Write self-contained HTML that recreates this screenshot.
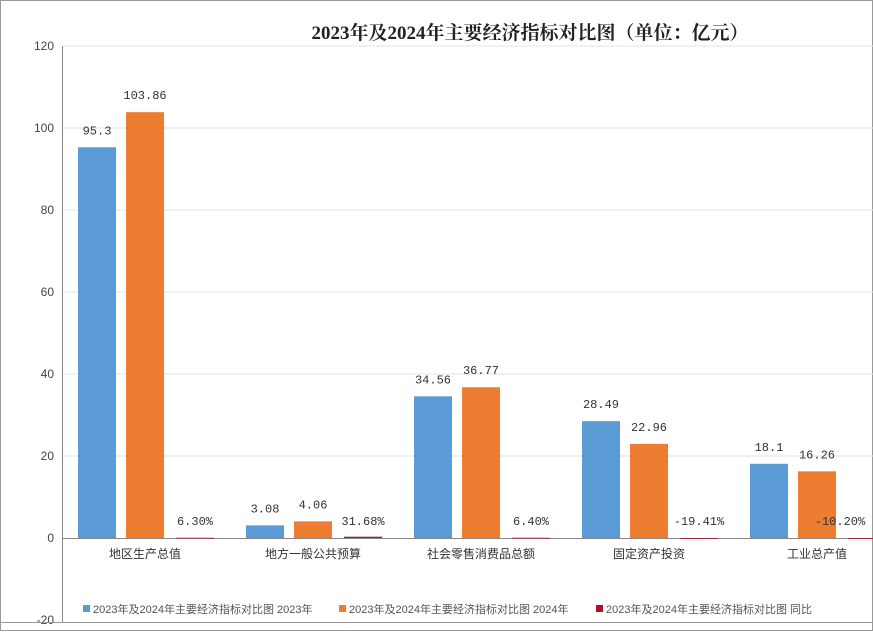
<!DOCTYPE html>
<html><head><meta charset="utf-8"><style>
body{margin:0;background:#fff}
svg text{font-family:"Liberation Sans","Noto Sans CJK SC",sans-serif}
</style></head><body>
<svg id="chart" width="873" height="631">
<rect x="0.5" y="0.5" width="872" height="630" fill="#fff" stroke="#999"/>
<text x="530" y="39" text-anchor="middle" font-size="19" font-weight="bold" style="font-family:'Liberation Serif','Noto Serif CJK SC',serif" fill="#222">2023年及2024年主要经济指标对比图（单位：亿元）</text>
<g id="grid"></g><g id="bars"></g><g id="labels"></g>
<g font-size="11" fill="#555">
<rect x="83" y="605" width="7" height="7" fill="#5b9bd5"/>
<text x="93" y="613" fill="#555">2023年及2024年主要经济指标对比图 2023年</text>
<rect x="339" y="605" width="7" height="7" fill="#ed7d31"/>
<text x="349" y="613" fill="#555">2023年及2024年主要经济指标对比图 2024年</text>
<rect x="596" y="605" width="7" height="7" fill="#b0102a"/>
<text x="606" y="613" fill="#555">2023年及2024年主要经济指标对比图 同比</text>
</g>
</svg>
<script>
const categories=["地区生产总值","地方一般公共预算","社会零售消费品总额","固定资产投资","工业总产值"];
const values2023=[95.3,3.08,34.56,28.49,18.1];
const values2024=[103.86,4.06,36.77,22.96,16.26];
const valuesYoY=[0.063,0.3168,0.064,-0.1941,-0.102];
const labels2023=["95.3","3.08","34.56","28.49","18.1"];
const labels2024=["103.86","4.06","36.77","22.96","16.26"];
const labelsYoY=["6.30%","31.68%","6.40%","-19.41%","-10.20%"];
const yTicks=[-20,0,20,40,60,80,100,120];
const NS="http://www.w3.org/2000/svg";
const y=v=>538-v*4.1;
const gx=i=>63+168*i;
function mk(tag,attrs,parent,txt){const e=document.createElementNS(NS,tag);for(const k in attrs)e.setAttribute(k,attrs[k]);if(txt!==undefined)e.textContent=txt;document.getElementById(parent).appendChild(e);return e;}
yTicks.forEach(t=>{
  if(t!==0&&t!==-20){const l=mk('line',{x1:63,x2:873,y1:y(t),y2:y(t),stroke:'#e3e3e3'},'grid');
  
  }
  const tx=mk('text',{x:54,y:y(t)+4,'text-anchor':'end','font-size':12,fill:'#444'},'grid',String(t));
  
  
});
const ax=mk('line',{x1:62.5,x2:62.5,y1:46,y2:622,stroke:'#888'},'grid');


const bx=mk('line',{x1:63,x2:873,y1:538.5,y2:538.5,stroke:'#888'},'grid');


const bl=mk('line',{x1:0,x2:873,y1:622.5,y2:622.5,stroke:'#999'},'grid');


const series=[[values2023,labels2023,'#5b9bd5',15,'bar-2023'],[values2024,labels2024,'#ed7d31',63,'bar-2024'],[valuesYoY,labelsYoY,'#b0102a',113,'bar-yoy']];
categories.forEach((c,i)=>{
  series.forEach(([vals,labs,col,off,nm])=>{
    const v=vals[i];const x=gx(i)+off;
    const top=Math.min(y(v),y(0)),h=Math.max(Math.abs(y(v)-y(0)),0.8);
    const r=mk('rect',{x:x,y:top,width:38,height:h,fill:col},'bars');
    
    
    const ly=nm==='bar-yoy'?525:y(v)-13;
    const lx=Math.min(x+19,840);
    const t=mk('text',{x:lx,y:ly,'text-anchor':'middle','font-size':12,fill:'#333',style:"font-family:'Liberation Mono','Noto Sans CJK SC',monospace"},'labels',labs[i]);
    
    
  });
  const ct=mk('text',{x:gx(i)+82,y:558,'text-anchor':'middle','font-size':12,fill:'#333'},'labels',c);
  
  
});
</script>
</body></html>
